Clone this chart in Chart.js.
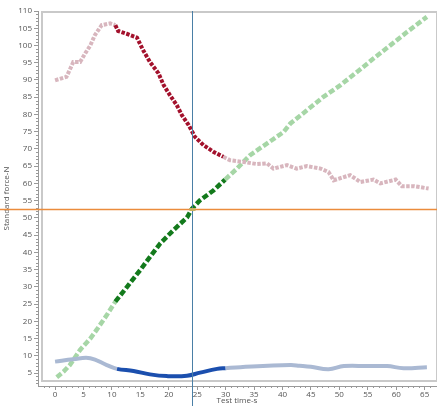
<!DOCTYPE html>
<html>
<head>
<meta charset="utf-8">
<script src="https://cdn.jsdelivr.net/npm/chart.js@4"></script>
<style>
html,body{margin:0;padding:0;background:#fff;}
#wrap{width:437px;height:406px;}
</style>
</head>
<body>
<div id="wrap"><canvas id="c" width="437" height="406"></canvas></div>
<script>
// Test time (s) and standard force (N)
const forceT = [0,2,2.6,3.2,4.4,5.3,6.2,7.0,8.2,9.7,10.6,11.1,12.6,14.4,15.5,16.7,18.2,19.1,20.2,21.4,22.3,23.5,24.6,26.1,27.9,29.6,30.8,33.2,35.5,37.3,38.4,40.8,42.5,44.3,46.7,48.1,49,51.9,53.7,56,57.2,59.9,61,63.1,65.7];
const forceV = [89.9,90.9,93,95.2,95.2,97.7,100,103,105.9,106.4,105.9,104.2,103.4,102.3,98.6,95.2,91.9,88.5,85.6,82.7,79.8,76.9,73.5,71.1,69.1,67.7,66.7,66.2,65.6,65.8,64.3,65.3,64.3,65,64.3,63.3,60.9,62.4,60.4,61.1,60,61.1,59.2,59.2,58.5];
const greenT = [0.3,1.5,2.6,3.5,4.4,6.2,7.3,9.1,10.6,12,13.8,15,16.7,18.5,20.8,23.2,24.1,25.5,27.9,29.9,32,34.3,37.3,40.2,41.4,44.3,47.2,50.2,53.1,56,59,61.9,65.4];
const greenV = [3.75,5.4,7.3,9.5,11.7,15,17.5,21.8,25.7,28.6,32.4,34.9,38.7,42.6,46.4,50.1,52.7,55.1,58,61.1,64.3,68.2,71.6,74.9,77.4,81.2,85.1,88.5,92.3,96.2,100.1,103.9,108.3];
const blueT = [0,3.2,6.2,9.1,10.9,13.8,16.7,19.7,23.2,25.5,28.5,30,32.6,41.4,43,45,48.1,50.8,54.9,58.4,61.3,65.4];
const blueV = [8.3,9.0,9.3,7.3,6.2,5.6,4.6,4.1,4.2,5.1,6.2,6.4,6.7,7.3,7.1,6.8,6.1,7.0,7.0,7.0,6.4,6.7];
const xTicks = [0,5,10,15,20,25,30,35,40,45,50,55,60,65];
const yTicks = [5,10,15,20,25,30,35,40,45,50,55,60,65,70,75,80,85,90,95,100,105,110];
const selStart = 10.5, selEnd = 30.5;   // highlighted (dark) time window
const cursorT = 24, cursorF = 52.7;     // crosshair

const pts = (t, v) => t.map((x, i) => ({x: x, y: v[i]}));
const segCol = (light, dark) => ctx => (ctx.p0.parsed.x >= selStart && ctx.p1.parsed.x <= selEnd) ? dark : light;

const extras = {
  id: 'extras',
  beforeDatasetsDraw(chart) {
    const {ctx, chartArea: a} = chart;
    ctx.save();
    ctx.strokeStyle = '#c9c9c9';
    ctx.lineWidth = 2;
    ctx.strokeRect(a.left + 4, a.top + 1, a.right - a.left - 3, a.bottom - a.top - 6);
    // minor ticks
    const xs = chart.scales.x, ys = chart.scales.y;
    ctx.strokeStyle = '#999';
    ctx.lineWidth = 1;
    ctx.beginPath();
    for (let t = -2; t <= 66; t++) {
      if (t % 5 === 0) continue;
      const px = Math.round(xs.getPixelForValue(t)) + 0.5;
      ctx.moveTo(px, a.bottom); ctx.lineTo(px, a.bottom + 2);
    }
    for (let v = 2; v <= 110; v++) {
      if (v % 5 === 0) continue;
      const py = Math.round(ys.getPixelForValue(v)) + 0.5;
      ctx.moveTo(a.left, py); ctx.lineTo(a.left - 2, py);
    }
    ctx.stroke();
    ctx.restore();
  },
  afterDraw(chart) {
    const {ctx, chartArea: a, width, height} = chart;
    const xs = chart.scales.x, ys = chart.scales.y;
    ctx.save();
    ctx.setLineDash([]);
    ctx.globalAlpha = 1;
    ctx.lineWidth = 1;
    const px = Math.round(xs.getPixelForValue(cursorT)) + 0.5;
    ctx.strokeStyle = '#4a7fa6';
    ctx.beginPath(); ctx.moveTo(px, a.top); ctx.lineTo(px, height); ctx.stroke();
    const py = Math.round(ys.getPixelForValue(cursorF)) + 0.5;
    ctx.strokeStyle = 'rgb(235,140,60)';
    ctx.lineWidth = 1.5;
    ctx.beginPath(); ctx.moveTo(0, py); ctx.lineTo(width, py); ctx.stroke();
    ctx.fillStyle = '#c8b060';
    ctx.fillRect(px - 3, py - 1.5, 6, 3);
    ctx.restore();
  }
};

const font = {family: "'Open Sans', 'DejaVu Sans', sans-serif", size: 8};

new Chart(document.getElementById('c'), {
  type: 'scatter',
  data: {
    datasets: [
      {data: pts(blueT, blueV), showLine: true, pointRadius: 0, borderWidth: 4, tension: 0.4,
       borderColor: '#aab9d3', segment: {borderColor: segCol('#aab9d3', '#1b4fae')}},
      {data: pts(forceT, forceV), showLine: true, pointRadius: 0, borderWidth: 4,
       borderDash: [3.5, 1.5], borderColor: '#d8b6be', segment: {borderColor: segCol('#d8b6be', '#a3112c')}},
      {data: pts(greenT, greenV), showLine: true, pointRadius: 0, borderWidth: 4.5,
       borderDash: [6, 2.5], borderColor: '#a6d6a6', segment: {borderColor: segCol('#a6d6a6', '#137a1c')}}
    ]
  },
  options: {
    animation: false,
    responsive: false,
    plugins: {legend: {display: false}, tooltip: {enabled: false}},
    layout: {padding: {top: 11, right: 1, left: 0, bottom: 0}},
    scales: {
      x: {
        type: 'linear', min: -3, max: 67,
        afterBuildTicks: s => { s.ticks = xTicks.map(v => ({value: v})); },
        afterFit: s => { s.height = 20; },
        grid: {drawOnChartArea: false, drawTicks: true, tickLength: 4, color: '#999'},
        border: {display: true, color: '#999'},
        ticks: {font: font, color: '#555', padding: 0, maxRotation: 0},
        title: {display: true, text: 'Test time-s', font: font, color: '#555', padding: 0}
      },
      y: {
        type: 'linear', min: 1.23, max: 110,
        afterBuildTicks: s => { s.ticks = yTicks.map(v => ({value: v})); },
        afterFit: s => { s.width = 38; },
        grid: {drawOnChartArea: false, drawTicks: true, tickLength: 4, color: '#999'},
        border: {display: true, color: '#999'},
        ticks: {font: font, color: '#555', padding: 2},
        title: {display: true, text: 'Standard force-N', font: font, color: '#555', padding: 2}
      }
    }
  },
  plugins: [extras]
});
</script>
</body>
</html>
